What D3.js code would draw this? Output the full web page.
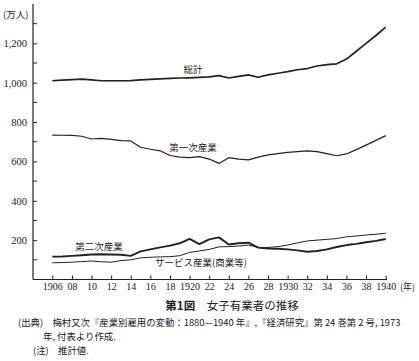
<!DOCTYPE html>
<html><head><meta charset="utf-8">
<script src="https://cdn.jsdelivr.net/npm/d3@7"></script>
<style>body{margin:0;background:#fff}svg{display:block}</style>
</head><body>
<svg id="c" width="419" height="361"></svg>
<script>
const years = d3.range(1906, 1941);
const total = [1010,1013,1016,1018,1014,1010,1010,1010,1011,1014,1017,1020,1022,1024,1025,1027,1030,1036,1024,1032,1040,1028,1040,1048,1056,1066,1072,1085,1092,1096,1120,1160,1200,1240,1283];
const primary = [734,733,732,728,714,717,712,706,704,672,662,654,630,622,619,624,612,590,619,612,608,622,633,640,646,650,654,650,640,629,638,660,683,707,731];
const secondary = [116,117,120,123,127,128,127,126,120,143,153,163,172,184,206,180,204,214,178,184,187,162,157,156,153,148,141,145,153,165,175,181,189,196,206];
const services = [85,86,88,91,94,90,88,96,100,110,113,115,116,121,138,145,153,166,167,170,175,163,163,167,175,186,196,200,204,208,217,221,226,230,235];
const xTickYears = d3.range(1906, 1941, 2);
const xTickLabel = y => (y === 1906 || (y % 10 === 0 && y >= 1920)) ? String(y) : String(y % 100).padStart(2, "0");
const yMajor = [200, 400, 600, 800, 1000, 1200];
const yMinor = [100, 300, 500, 700, 900, 1100, 1300];
const seriesLabels = ["総計", "第一次産業", "第二次産業", "サービス産業(商業等)"];

const svg = d3.select("#c");
const serif = "'Liberation Serif','DejaVu Serif',serif";
const cjk = "'Noto Sans CJK JP','Noto Sans',sans-serif";
const ink = "#222";

const x = d3.scaleLinear().domain([1906, 1940]).range([52.3, 385.7]);
const y = d3.scaleLinear().domain([0, 1400]).range([279.5, 4]);

// axes
const xAxis = d3.axisBottom(x).tickValues(xTickYears).tickSize(-4).tickPadding(3).tickFormat(xTickLabel);
const gx = svg.append("g").attr("transform", `translate(0,${y(0)})`).call(xAxis);
gx.select(".domain").remove();
gx.append("line").attr("x1", 33).attr("x2", 387).attr("y1", 0).attr("y2", 0).attr("stroke", ink).attr("stroke-width", 1.2);
gx.selectAll(".tick line").attr("stroke", ink);
gx.selectAll(".tick text").attr("font-family", serif).attr("font-size", 10).attr("fill", ink);

const yAxis = d3.axisLeft(y).tickValues(yMajor).tickSize(-4).tickPadding(6).tickFormat(d3.format(","));
const gy = svg.append("g").attr("transform", `translate(33,0)`).call(yAxis);
gy.select(".domain").remove();
gy.append("line").attr("x1", 0).attr("x2", 0).attr("y1", y(1400)).attr("y2", y(0)).attr("stroke", ink).attr("stroke-width", 1.2);
gy.selectAll(".tick line").attr("stroke", ink);
gy.selectAll(".tick text").attr("font-family", serif).attr("font-size", 10.5).attr("fill", ink);
gy.selectAll(".minor").data(yMinor).enter().append("line")
  .attr("x1", 0).attr("x2", 4).attr("y1", d => y(d)).attr("y2", d => y(d)).attr("stroke", ink);

svg.append("text").attr("x", 3).attr("y", 18).attr("font-family", cjk).attr("font-size", 9.5).attr("fill", ink).text("(万人)");
svg.append("text").attr("x", 400).attr("y", 290).attr("font-family", cjk).attr("font-size", 9).attr("fill", ink).text("(年)");

// lines
const line = d3.line().x((d, i) => x(years[i])).y(d => y(d)).curve(d3.curveLinear);
const specs = [[total, 1.7], [primary, 1.2], [secondary, 1.9], [services, 1.0]];
specs.forEach(([data, w]) => {
  svg.append("path").datum(data).attr("d", line).attr("fill", "none").attr("stroke", ink)
    .attr("stroke-width", w).attr("stroke-linejoin", "round");
});

// series labels
const lab = [[193, 73], [193, 151], [99, 250], [201, 266]];
seriesLabels.forEach((t, i) => {
  svg.append("text").attr("x", lab[i][0]).attr("y", lab[i][1]).attr("text-anchor", "middle")
    .attr("font-family", cjk).attr("font-size", 9.5).attr("fill", ink).text(t);
});

// caption
const cap = svg.append("text").attr("x", 232).attr("y", 310).attr("text-anchor", "middle")
  .attr("font-family", cjk).attr("font-size", 11.5).attr("fill", ink);
cap.append("tspan").attr("font-weight", "bold").text("第1図");
cap.append("tspan").text("　女子有業者の推移");

const note = [
  [18, 325.5, "(出典)　梅村又次『産業別雇用の変動：1880—1940 年』,『経済研究』第 24 巻第 2 号, 1973"],
  [43, 339.5, "年, 付表より作成."],
  [33, 353.5, "(注)　推計値."]
];
note.forEach(([nx, ny, t]) => {
  svg.append("text").attr("x", nx).attr("y", ny).attr("font-family", cjk).attr("font-size", 9.4)
    .attr("fill", ink).text(t);
});
</script>
</body></html>
